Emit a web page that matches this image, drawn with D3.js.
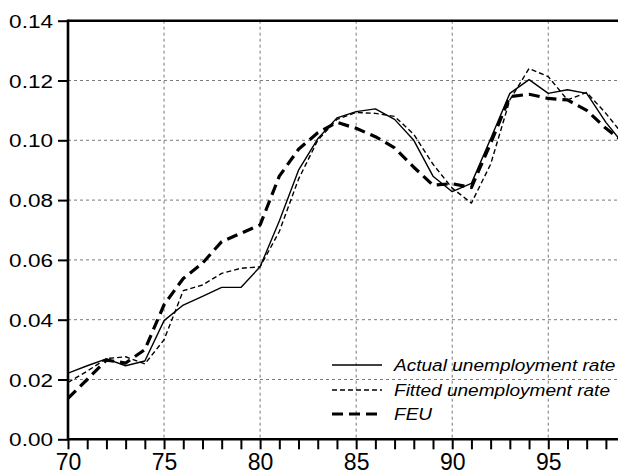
<!DOCTYPE html>
<html>
<head>
<meta charset="utf-8">
<script src="https://cdn.jsdelivr.net/npm/d3@7/dist/d3.min.js"></script>
<style>
  html, body { margin: 0; padding: 0; background: #fff; }
  svg { display: block; }
  text { font-family: "Liberation Sans", Arial, sans-serif; fill: #000; }
</style>
</head>
<body>
<svg id="chart" width="618" height="476"></svg>
<script>
// Annual observations, 1970-1999
const years = [70, 71, 72, 73, 74, 75, 76, 77, 78, 79, 80, 81, 82, 83, 84,
               85, 86, 87, 88, 89, 90, 91, 92, 93, 94, 95, 96, 97, 98, 99];

const actualRate = [0.0221, 0.0246, 0.0269, 0.0246, 0.0262, 0.0397, 0.0449, 0.0478, 0.0508, 0.0508,
                    0.0577, 0.0730, 0.0900, 0.1005, 0.1075, 0.1096, 0.1105, 0.1070, 0.1000, 0.0880,
                    0.0828, 0.0856, 0.1005, 0.1157, 0.1203, 0.1157, 0.1169, 0.1157, 0.1060, 0.0980];

const fittedRate = [0.0190, 0.0228, 0.0270, 0.0276, 0.0252, 0.0333, 0.0497, 0.0516, 0.0555, 0.0572,
                    0.0577, 0.0695, 0.0870, 0.1000, 0.1070, 0.1093, 0.1090, 0.1080, 0.1020, 0.0920,
                    0.0840, 0.0790, 0.0920, 0.1135, 0.1240, 0.1213, 0.1135, 0.1160, 0.1090, 0.1010];

const feuRate = [0.0137, 0.0200, 0.0265, 0.0255, 0.0300, 0.0450, 0.0538, 0.0589, 0.0661, 0.0689,
                 0.0717, 0.0880, 0.0970, 0.1025, 0.1060, 0.1040, 0.1012, 0.0975, 0.0910, 0.0850,
                 0.0855, 0.0842, 0.0990, 0.1146, 0.1154, 0.1140, 0.1135, 0.1100, 0.1040, 0.0990];

const yTicks = [0.00, 0.02, 0.04, 0.06, 0.08, 0.10, 0.12, 0.14];
const xLabelTicks = [70, 75, 80, 85, 90, 95];
const xMinorTicks = d3.range(70, 99, 1);

const seriesNames = ["Actual unemployment rate", "Fitted unemployment rate", "FEU"];

const svg = d3.select("#chart");
const plot = { left: 68, right: 618, top: 20.7, bottom: 439.3 };

const x = d3.scaleLinear().domain([70, 98.63]).range([plot.left, plot.right]);
const y = d3.scaleLinear().domain([0, 0.14]).range([plot.bottom, plot.top]);

// clip region for the plotted series
svg.append("defs").append("clipPath").attr("id", "plot-clip")
  .append("rect")
  .attr("x", plot.left).attr("y", plot.top)
  .attr("width", plot.right - plot.left).attr("height", plot.bottom - plot.top);

// dashed grid
const grid = svg.append("g").attr("stroke", "#7a7a7a").attr("stroke-width", 1)
  .attr("stroke-dasharray", "3,3").attr("fill", "none");
grid.selectAll("line.h").data(yTicks.filter(v => v > 0 && v < 0.14)).join("line")
  .attr("x1", plot.left).attr("x2", plot.right)
  .attr("y1", d => y(d)).attr("y2", d => y(d));
grid.selectAll("line.v").data(xLabelTicks.filter(v => v > 70)).join("line")
  .attr("y1", plot.top).attr("y2", plot.bottom)
  .attr("x1", d => x(d)).attr("x2", d => x(d));

// series
const line = d3.line().x((d, i) => x(years[i])).y(d => y(d));
const series = [
  { values: actualRate, width: 1.4, dash: null },
  { values: fittedRate, width: 1.4, dash: "5,3" },
  { values: feuRate, width: 3.2, dash: "11,6" }
];
const lines = svg.append("g").attr("clip-path", "url(#plot-clip)");
series.forEach(s => {
  lines.append("path")
    .attr("d", line(s.values))
    .attr("fill", "none")
    .attr("stroke", "#000")
    .attr("stroke-width", s.width)
    .attr("stroke-linejoin", "round")
    .attr("stroke-dasharray", s.dash);
});

// y axis
const yAxis = svg.append("g").attr("transform", `translate(${plot.left},0)`)
  .call(d3.axisLeft(y).tickValues(yTicks).tickFormat(d3.format(".2f")).tickSize(10).tickPadding(0));
yAxis.select(".domain").remove();
yAxis.selectAll(".tick line").attr("stroke", "#000").attr("stroke-width", 2);
yAxis.selectAll(".tick text")
  .attr("x", null).attr("dy", null)
  .attr("font-size", 18.5)
  .attr("text-anchor", "end")
  .attr("transform", "translate(-15,6.5) scale(1.22,1)")
  .style("font-family", "'Liberation Sans', Arial, sans-serif");

// x axis
const xAxis = svg.append("g").attr("transform", `translate(0,${plot.bottom})`)
  .call(d3.axisBottom(x).tickValues(xMinorTicks).tickFormat(d => xLabelTicks.includes(d) ? d : "")
    .tickSize(10).tickPadding(4));
xAxis.select(".domain").remove();
xAxis.selectAll(".tick line").attr("stroke", "#000").attr("stroke-width", 2);
xAxis.selectAll(".tick text")
  .attr("font-size", 23)
  .attr("dy", "0.72em")
  .style("font-family", "'Liberation Sans', Arial, sans-serif");

// frame: left, bottom and top edges
const frame = svg.append("g").attr("stroke", "#000").attr("stroke-width", 2.6).attr("fill", "none");
frame.append("line").attr("x1", plot.left).attr("x2", plot.left).attr("y1", plot.top - 1.3).attr("y2", plot.bottom + 1.3);
frame.append("line").attr("x1", plot.left).attr("x2", plot.right).attr("y1", plot.bottom).attr("y2", plot.bottom);
frame.append("line").attr("x1", plot.left).attr("x2", plot.right).attr("y1", plot.top).attr("y2", plot.top);

// legend
const legend = svg.append("g");
const legendRows = [365, 390, 414];
series.forEach((s, i) => {
  const row = legendRows[i];
  legend.append("line")
    .attr("x1", 332).attr("x2", 382).attr("y1", row).attr("y2", row)
    .attr("stroke", "#000").attr("stroke-width", s.width)
    .attr("stroke-dasharray", s.dash);
  legend.append("text")
    .attr("transform", `translate(394,${row + 6}) scale(1.17,1)`)
    .attr("font-size", 16.3)
    .attr("font-style", "italic")
    .text(seriesNames[i]);
});
</script>
</body>
</html>
